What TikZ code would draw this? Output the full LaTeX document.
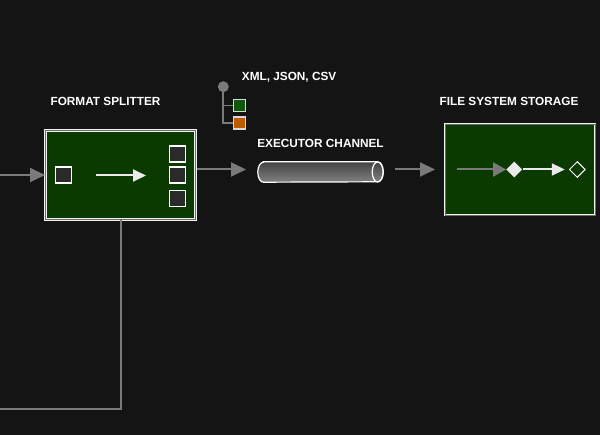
\documentclass[tikz,border=0pt]{standalone}
\usepackage{fontspec}
\setmainfont{Liberation Sans}[BoldFont={Liberation Sans Bold}]
\usetikzlibrary{arrows.meta,shapes.geometric}
\definecolor{bg}{HTML}{141414}
\definecolor{boxgreen}{HTML}{0A3A00}
\definecolor{lngrey}{HTML}{7A7A7A}
\definecolor{sqfill}{HTML}{2A2A2A}
\definecolor{leggreen}{HTML}{0A5A0A}
\definecolor{legorange}{HTML}{C05A00}
\definecolor{gapgrey}{HTML}{6A6A6A}
\tikzset{
  title/.style={text=white, font=\fontsize{11.8}{14}\selectfont\bfseries, inner sep=0pt},
  mainbox/.style={draw=white!95!black, double=gapgrey, double distance=0.8pt, line width=1pt,
    fill=boxgreen, inner sep=0pt},
  port/.style={draw=white, line width=1.1pt, fill=sqfill, minimum width=16pt, minimum height=16pt, inner sep=0pt},
  greyline/.style={draw=lngrey, line width=2pt},
  greyarrow/.style={greyline, -{Triangle[length=15pt,width=14pt]}},
  whitearrow/.style={draw=white!92!black, line width=2pt, -{Triangle[length=13pt,width=12pt]}},
  legsq/.style={draw=white!85!black, line width=1.2pt, minimum width=12pt, minimum height=12pt, inner sep=0pt},
}
\begin{document}
\begin{tikzpicture}[x=1pt,y=-1pt]
\fill[bg] (0,0) rectangle (600,435);
\useasboundingbox (0,0) rectangle (600,435);

% titles
\node[title] (t1) at (105.5,101.7) {FORMAT SPLITTER};
\node[title] (t2) at (320.5,143) {EXECUTOR CHANNEL};
\node[title] (t3) at (509,101.7) {FILE SYSTEM STORAGE};
\node[title, anchor=west] (t4) at (241.7,77) {XML, JSON, CSV};

% format splitter
\node[mainbox, minimum width=150pt, minimum height=89pt] (split) at (120.5,175) {};
\node[port] (pin) at (63.5,175) {};
\node[port] (po1) at (177.5,154) {};
\node[port] (po2) at (177.5,175) {};
\node[port] (po3) at (177.5,198.5) {};
\coordinate (sa) at (96,175.5);
\coordinate (sb) at (146,175.5);
\draw[whitearrow] (sa) -- (sb);

% incoming connector
\coordinate (inL) at (0,175);
\draw[greyarrow] (inL) -- (split.west);

% bottom connector
\coordinate (bcorner) at (120.5,409);
\coordinate (bend) at (0,409);
\draw[greyline] (split.south) -- (bcorner) -- (bend);

% executor channel
\node[minimum width=125pt, minimum height=20pt, inner sep=0pt] (chan) at (320.5,172) {};
\begin{scope}
  \clip ([xshift=5.5pt]chan.north west) -- ([xshift=-5.5pt]chan.north east)
    arc[start angle=-90, end angle=90, x radius=5.5, y radius=10]
    -- ([xshift=5.5pt]chan.south west)
    arc[start angle=90, end angle=270, x radius=5.5, y radius=10] -- cycle;
  \foreach \i in {0,...,20} {
    \pgfmathtruncatemacro{\pct}{75-\i*1.2}
    \fill[black!\pct] (255,161+\i) rectangle (386,162.2+\i);
  }
\end{scope}
\draw[white, line width=1.2pt]
  ([xshift=5.5pt]chan.north west) -- ([xshift=-5.5pt]chan.north east)
  arc[start angle=-90, end angle=90, x radius=5.5, y radius=10]
  -- ([xshift=5.5pt]chan.south west)
  arc[start angle=90, end angle=270, x radius=5.5, y radius=10] -- cycle;
\draw[white, line width=1.2pt] ([xshift=-5.5pt]chan.east) ellipse[x radius=5.5, y radius=10];

% arrows between
\coordinate (o1) at (197,169.5);
\coordinate (o2) at (246,169.5);
\draw[greyarrow] (o1) -- (o2);
\coordinate (o3) at (395,169.5);
\coordinate (o4) at (435,169.5);
\draw[greyarrow] (o3) -- (o4);

% file system storage
\node[mainbox, minimum width=150pt, minimum height=91pt] (store) at (520,169.5) {};
\node[diamond, fill=white!92!black, minimum width=16pt, minimum height=16pt, inner sep=0pt] (d1) at (514.3,169.5) {};
\node[diamond, draw=white, line width=1pt, fill=boxgreen, minimum width=16pt, minimum height=16pt, inner sep=0pt] (d2) at (577.3,169.5) {};
\coordinate (s0) at (456.7,169.5);
\draw[greyarrow, -{Triangle[length=13pt,width=14pt]}] (s0) -- (d1.west);
\draw[whitearrow] (d1.east) -- ([xshift=-4pt]d2.west);

% legend
\node[circle, fill=lngrey, minimum size=11pt, inner sep=0pt] (leg) at (223.3,86.7) {};
\node[legsq, fill=leggreen] (lg) at (239.7,105.5) {};
\node[legsq, fill=legorange] (lo) at (239.7,123) {};
\draw[draw=lngrey, line width=1.8pt] (leg.center) |- (lo.west);
\draw[draw=lngrey, line width=1.8pt] (leg.center |- lg.west) -- (lg.west);
\end{tikzpicture}
\end{document}
